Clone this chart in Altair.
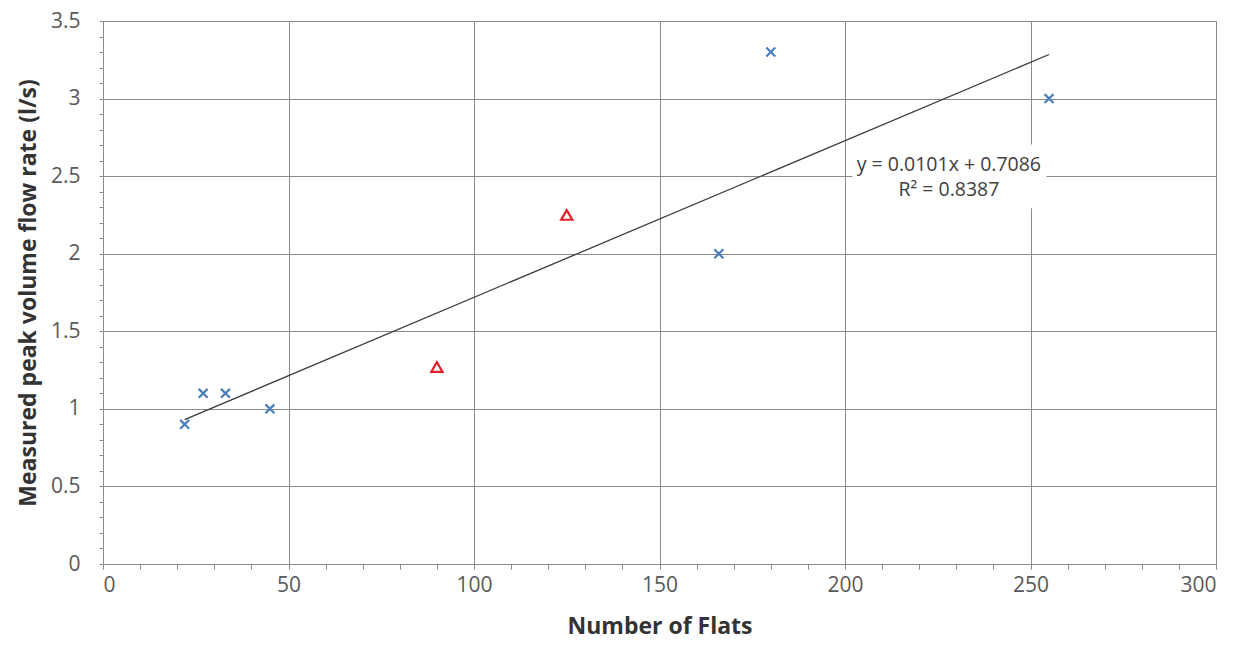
import altair as alt
import pandas as pd

# ---- data ----
blue_x = [22, 27, 33, 45, 166, 180, 255]
blue_y = [0.9, 1.1, 1.1, 1.0, 2.0, 3.3, 3.0]
red_x = [90, 125]
red_y = [1.27, 2.25]
trend_slope = 0.0101
trend_intercept = 0.7086
trend_x = [22, 255]
eq_lines = ["y = 0.0101x + 0.7086", "R² = 0.8387"]
eq_x = [228, 228]
eq_y = [2.575, 2.41]
box_x = [202, 254.3]
box_y = [2.293, 2.704]
x_ticks = list(range(0, 301, 10))
y_ticks = [round(i * 0.1, 1) for i in range(0, 36)]

blue = pd.DataFrame({"x": blue_x, "y": blue_y})
red = pd.DataFrame({"x": red_x, "y": red_y})
trend = pd.DataFrame({"x": trend_x, "y": [trend_slope * v + trend_intercept for v in trend_x]})
eq = pd.DataFrame({"x": eq_x, "y": eq_y, "t": eq_lines})
box = pd.DataFrame({"x": [box_x[0]], "x2": [box_x[1]], "y": [box_y[0]], "y2": [box_y[1]]})

FONT = "Open Sans"
GRID = "#8a8a8a"

xscale = alt.Scale(domain=[0, 300], nice=False, zero=False)
yscale = alt.Scale(domain=[0, 3.5], nice=False, zero=False)

xaxis = alt.Axis(
    values=x_ticks,
    tickCount=1000,
    labelExpr="datum.value % 50 === 0 ? toString(datum.value) : ''",
    labelOverlap=False,
    grid=True,
    gridColor=GRID,
    gridWidth=1,
    gridOpacity={"condition": {"test": "datum.value % 50 === 0", "value": 1}, "value": 0},
    tickSize=5,
    tickColor=GRID,
    domainColor=GRID,
    labelFont=FONT,
    labelFontSize=21,
    labelColor="#595959",
    labelPadding=5,
    title="Number of Flats",
    titleFont=FONT,
    titleFontSize=23,
    titleFontWeight="bold",
    titleColor="#333333",
    titleBaseline="alphabetic",
    titlePadding=38,
)
yaxis = alt.Axis(
    values=y_ticks,
    tickCount=1000,
    labelExpr="abs(datum.value*2 - round(datum.value*2)) < 0.000001 ? toString(datum.value) : ''",
    labelOverlap=False,
    grid=True,
    gridColor=GRID,
    gridWidth=1,
    gridOpacity={"condition": {"test": "abs(datum.value*2 - round(datum.value*2)) < 0.000001", "value": 1}, "value": 0},
    tickSize=4,
    tickColor=GRID,
    domainColor=GRID,
    labelFont=FONT,
    labelFontSize=21,
    labelColor="#595959",
    labelPadding=19,
    title="Measured peak volume flow rate (l/s)",
    titleFont=FONT,
    titleFontSize=23,
    titleFontWeight="bold",
    titleColor="#333333",
    titlePadding=10,
)

base_x = alt.X("x:Q", scale=xscale, axis=xaxis)
base_y = alt.Y("y:Q", scale=yscale, axis=yaxis)

trend_layer = alt.Chart(trend).mark_line(color="#3a3a3a", strokeWidth=1.3).encode(x=base_x, y=base_y)

box_layer = alt.Chart(box).mark_rect(fill="white").encode(
    x=alt.X("x:Q", scale=xscale), x2="x2:Q", y=alt.Y("y:Q", scale=yscale), y2="y2:Q"
)

eq_layer = alt.Chart(eq).mark_text(font=FONT, fontSize=19.5, color="#404040", align="center", baseline="middle").encode(
    x=alt.X("x:Q", scale=xscale), y=alt.Y("y:Q", scale=yscale), text="t:N"
)

blue_layer = alt.Chart(blue).mark_point(
    shape="M-1,-1L1,1M-1,1L1,-1", filled=False, color="#4a7ebb", strokeWidth=2.2, size=80, opacity=1
).encode(x=alt.X("x:Q", scale=xscale), y=alt.Y("y:Q", scale=yscale))

red_layer = alt.Chart(red).mark_point(
    shape="triangle-up", filled=False, color="#e3202a", strokeWidth=2.2, size=125, opacity=1
).encode(x=alt.X("x:Q", scale=xscale), y=alt.Y("y:Q", scale=yscale))

chart = alt.layer(trend_layer, box_layer, eq_layer, blue_layer, red_layer).properties(
    width=1113,
    height=543,
    autosize=alt.AutoSizeParams(type="none"),
    padding={"left": 95, "top": 13, "right": 20, "bottom": 76},
).configure_view(stroke=None).configure(background="white")

chart.save("out.html", embed_options={"renderer": "svg", "actions": False})
